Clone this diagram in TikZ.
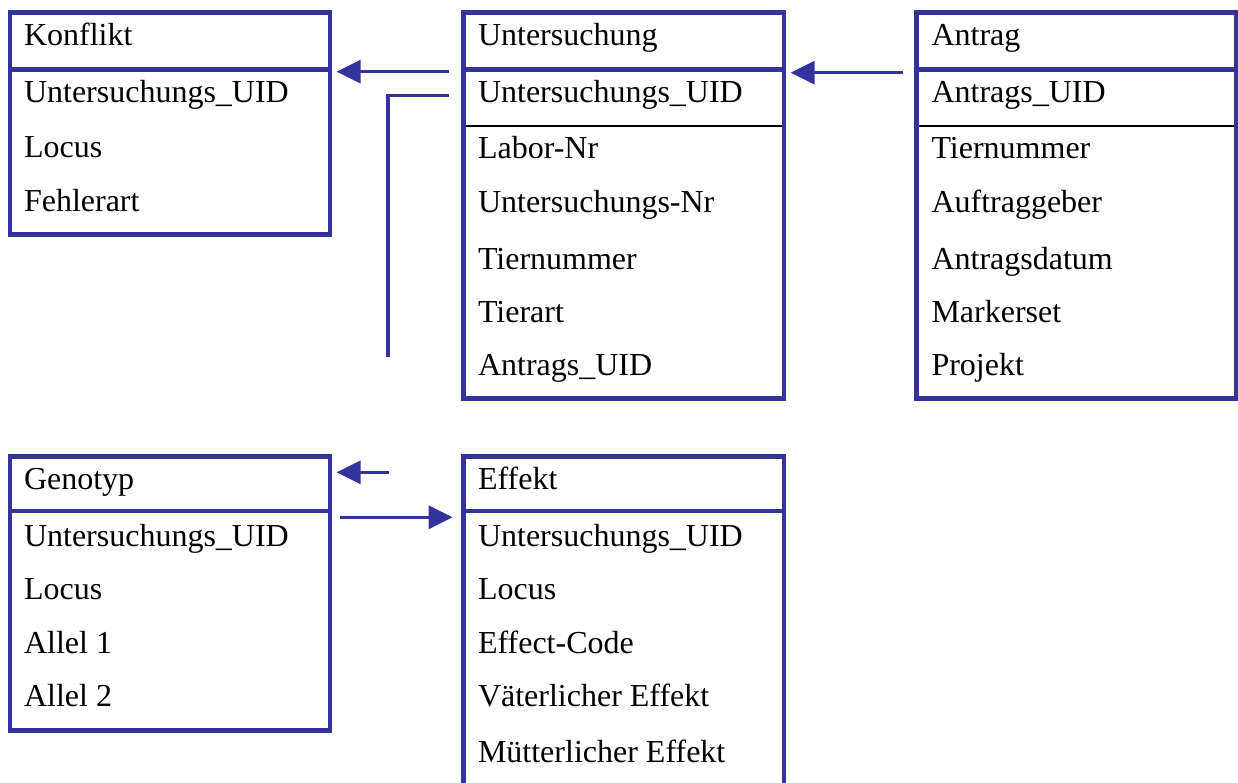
\documentclass[tikz,border=0pt]{standalone}
\usepackage{fontspec}
\setmainfont{Liberation Serif}
\usetikzlibrary{arrows.meta,calc}
\definecolor{umlblue}{RGB}{51,51,153}
\begin{document}
\begin{tikzpicture}[x=1pt,y=-1pt,
  tbl/.style={draw=umlblue,line width=4.5pt,rectangle,inner sep=0pt,outer sep=0pt},
  lbl/.style={anchor=base west,inner sep=0pt,outer sep=0pt,text=black,font=\fontsize{32}{38}\selectfont,yshift=-1.5pt},
  hline/.style={draw=umlblue,line width=4.5pt},
  thin/.style={draw=black,line width=2pt},
  conn/.style={draw=umlblue,line width=3.3pt},
  arr/.style={conn,-{Triangle[length=24pt,width=23pt]}}]
\useasboundingbox (0,0) rectangle (1238,783);
% tables
\node[tbl,minimum width=320pt,minimum height=222pt] (konf) at (170,123.5) {};
\node[tbl,minimum width=320.5pt,minimum height=386pt] (unt) at (623.75,205.5) {};
\node[tbl,minimum width=319.5pt,minimum height=386pt] (antr) at (1076.25,205.5) {};
\node[tbl,minimum width=320pt,minimum height=273.8pt] (geno) at (170,593.6) {};
\node[tbl,minimum width=320.5pt,minimum height=343.3pt] (eff) at (623.75,628.35) {};
% header separators
\draw[hline] ($(konf.north west)+(0,57)$) -- ($(konf.north east)+(0,57)$);
\draw[hline] ($(unt.north west)+(0,57)$) -- ($(unt.north east)+(0,57)$);
\draw[hline] ($(antr.north west)+(0,57)$) -- ($(antr.north east)+(0,57)$);
\draw[hline] ($(geno.north west)+(0,54.3)$) -- ($(geno.north east)+(0,54.3)$);
\draw[hline] ($(eff.north west)+(0,54.3)$) -- ($(eff.north east)+(0,54.3)$);
% thin key separators
\draw[thin] ($(unt.north west)+(2.25,113.5)$) -- ($(unt.north east)+(-2.25,113.5)$);
\draw[thin] ($(antr.north west)+(2.25,113.5)$) -- ($(antr.north east)+(-2.25,113.5)$);
% Konflikt
\node[lbl] (k0) at (24,44) {Konflikt};
\node[lbl] (k1) at (24,101) {Untersuchungs\_UID};
\node[lbl] (k2) at (24,156) {Locus};
\node[lbl] (k3) at (24,210) {Fehlerart};
% Untersuchung
\node[lbl] (u0) at (478,44) {Untersuchung};
\node[lbl] (u1) at (478,101) {Untersuchungs\_UID};
\node[lbl] (u2) at (478,157) {Labor-Nr};
\node[lbl] (u3) at (478,211) {Untersuchungs-Nr};
\node[lbl] (u4) at (478,268) {Tiernummer};
\node[lbl] (u5) at (478,321) {Tierart};
\node[lbl] (u6) at (478,374) {Antrags\_UID};
% Antrag
\node[lbl] (a0) at (931.5,44) {Antrag};
\node[lbl] (a1) at (931.5,101) {Antrags\_UID};
\node[lbl] (a2) at (931.5,157) {Tiernummer};
\node[lbl] (a3) at (931.5,211) {Auftraggeber};
\node[lbl] (a4) at (931.5,268) {Antragsdatum};
\node[lbl] (a5) at (931.5,321) {Markerset};
\node[lbl] (a6) at (931.5,374) {Projekt};
% Genotyp
\node[lbl] (g0) at (24,488) {Genotyp};
\node[lbl] (g1) at (24,545) {Untersuchungs\_UID};
\node[lbl] (g2) at (24,598) {Locus};
\node[lbl] (g3) at (24,652) {Allel 1};
\node[lbl] (g4) at (24,705) {Allel 2};
% Effekt
\node[lbl] (e0) at (478,488) {Effekt};
\node[lbl] (e1) at (478,545) {Untersuchungs\_UID};
\node[lbl] (e2) at (478,598) {Locus};
\node[lbl] (e3) at (478,652) {Effect-Code};
\node[lbl] (e4) at (478,705) {Väterlicher Effekt};
\node[lbl] (e5) at (478,761) {Mütterlicher Effekt};
% connectors
\coordinate (c2end) at (388,357);
\draw[arr] ($(unt.north west)+(-14.5,59.2)$) -- ($(konf.north east)+(6.7,59.2)$);
\draw[conn] ($(unt.north west)+(-14.5,83.2)$) -| (c2end);
\draw[arr] ($(antr.north west)+(-13.5,60.2)$) -- ($(unt.north east)+(6.7,60.2)$);
\draw[arr] ($(geno.north east)+(59,15.6)$) -- ($(geno.north east)+(6.7,15.6)$);
\draw[arr] ($(geno.north east)+(10,60.6)$) -- ($(eff.north west)+(-10.8,60.6)$);
\end{tikzpicture}
\end{document}
